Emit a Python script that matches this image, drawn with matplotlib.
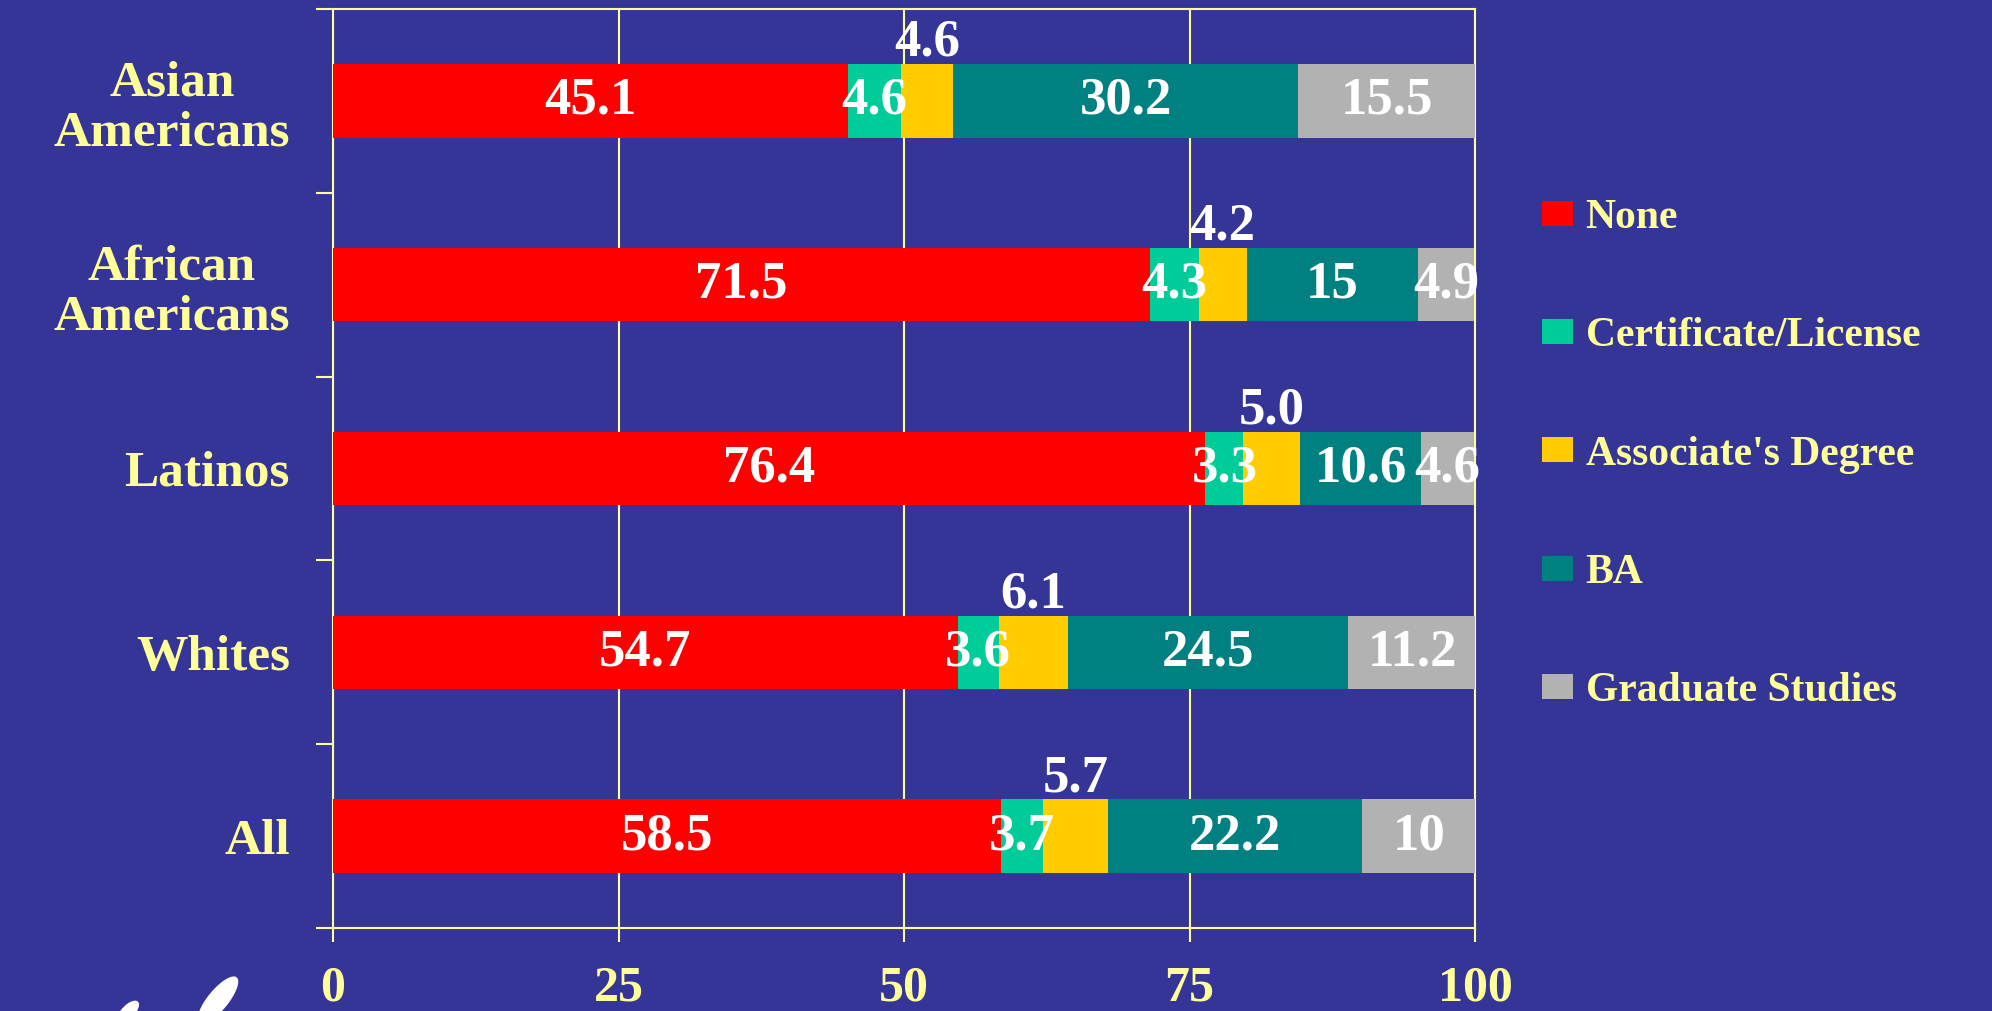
import matplotlib
matplotlib.use("Agg")
import matplotlib.pyplot as plt
from matplotlib.patches import Patch, Ellipse
import numpy as np

# Data (top to bottom as in the chart)
groups = ["Asian\nAmericans", "African\nAmericans", "Latinos", "Whites", "All"]
series = ["None", "Certificate/License", "Associate's Degree", "BA", "Graduate Studies"]
none_vals = [45.1, 71.5, 76.4, 54.7, 58.5]
cert_vals = [4.6, 4.3, 3.3, 3.6, 3.7]
assoc_vals = [4.6, 4.2, 5.0, 6.1, 5.7]
ba_vals = [30.2, 15, 10.6, 24.5, 22.2]
grad_vals = [15.5, 4.9, 4.6, 11.2, 10]
none_lbl = ["45.1", "71.5", "76.4", "54.7", "58.5"]
cert_lbl = ["4.6", "4.3", "3.3", "3.6", "3.7"]
assoc_lbl = ["4.6", "4.2", "5.0", "6.1", "5.7"]
ba_lbl = ["30.2", "15", "10.6", "24.5", "22.2"]
grad_lbl = ["15.5", "4.9", "4.6", "11.2", "10"]
xticks = [0, 25, 50, 75, 100]

bg = '#353597'
yellow = '#FFFF99'
colors = ['#FF0000', '#00CC99', '#FFCC00', '#008080', '#B2B2B2']
font = 'Liberation Serif'

fig = plt.figure(figsize=(19.92, 10.11), dpi=100, facecolor=bg)
ax = fig.add_axes([333/1992, 1-928/1011, 1142/1992, 919/1011])
ax.set_facecolor(bg)

n = len(groups)
y = np.arange(n)[::-1]  # first group on top
bar_h = 0.4

all_vals = [none_vals, cert_vals, assoc_vals, ba_vals, grad_vals]
all_lbls = [none_lbl, cert_lbl, assoc_lbl, ba_lbl, grad_lbl]
left = np.zeros(n)
for k, (vals, lbls) in enumerate(zip(all_vals, all_lbls)):
    vals = np.array(vals, dtype=float)
    ax.barh(y, vals, left=left, height=bar_h, color=colors[k], edgecolor='none', zorder=3)
    for i in range(n):
        cx = left[i] + vals[i] / 2
        if k == 2:
            # associate's degree labels sit above the bar
            ax.annotate(lbls[i], (cx, y[i] + bar_h / 2), xytext=(0, -2), textcoords='offset points',
                        ha='center', va='bottom', color='white', fontsize=38,
                        fontweight='bold', family=font, zorder=5)
        else:
            ax.text(cx, y[i], lbls[i], ha='center', va='center', color='white', fontsize=38,
                    fontweight='bold', family=font, zorder=5)
    left += vals

ax.set_xlim(0, 100)
ax.set_ylim(-0.5, n - 0.5)
ax.set_xticks(xticks)
ax.set_xticklabels([str(t) for t in xticks], color=yellow, fontsize=36, fontweight='bold', family=font)
ax.tick_params(axis='x', length=10, width=1.5, color=yellow, pad=17)

# category boundaries as major ticks, names as minor ticks
ax.set_yticks(np.arange(-0.5, n, 1.0))
ax.set_yticklabels([])
ax.tick_params(axis='y', which='major', length=12, width=1.5, color=yellow)
ax.set_yticks(y, minor=True)
ax.set_yticklabels(groups, minor=True, color=yellow, fontsize=37, fontweight='bold',
                   family=font, ha='right', multialignment='center', linespacing=1.12)
ax.tick_params(axis='y', which='minor', length=0, pad=31)

ax.grid(axis='x', color=yellow, linewidth=1.5, zorder=1)
ax.set_axisbelow(True)
for s in ax.spines.values():
    s.set_color(yellow)
    s.set_linewidth(1.5)

handles = [Patch(facecolor=c, edgecolor='none') for c in colors]
leg = fig.legend(handles, series, loc='upper left', bbox_to_anchor=(1521/1992, 1-178/1011),
                 frameon=False, borderpad=0, handlelength=0.75, handleheight=0.55,
                 handletextpad=0.3, labelspacing=1.93, prop={'family': font, 'weight': 'bold', 'size': 30})
for t in leg.get_texts():
    t.set_color(yellow)

# partial white logo in the bottom-left corner
fig.patches.append(Ellipse((218/1992, 1-1000/1011), 24/1992, 50/1011, angle=-20,
                           transform=fig.transFigure, facecolor='white', edgecolor='none'))
fig.patches.append(Ellipse((128/1992, 1-1012/1011), 16/1992, 24/1011, angle=-20,
                           transform=fig.transFigure, facecolor='white', edgecolor='none'))

fig.savefig('out.png', dpi=100, facecolor=bg)
